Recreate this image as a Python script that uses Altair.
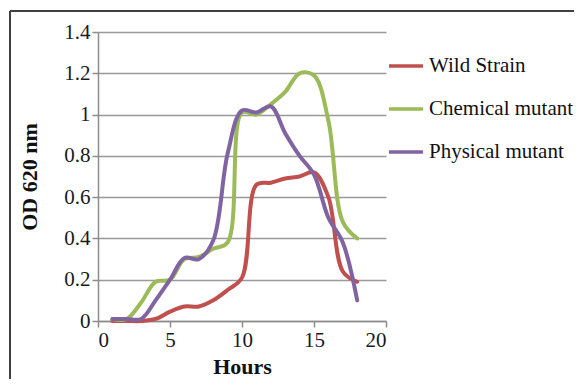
import altair as alt
import pandas as pd

hours = list(range(1, 19))
wild = [0.0, 0.0, 0.0, 0.01, 0.045, 0.07, 0.07, 0.1, 0.15, 0.21, 0.66, 0.67, 0.69, 0.70, 0.72, 0.60, 0.24, 0.19]
chem = [0.01, 0.01, 0.09, 0.19, 0.2, 0.3, 0.31, 0.35, 0.38, 1.01, 1.0, 1.05, 1.11, 1.2, 1.19, 0.97, 0.48, 0.4]
phys = [0.01, 0.01, 0.01, 0.1, 0.2, 0.305, 0.3, 0.39, 0.81, 1.02, 1.01, 1.04, 0.91, 0.8, 0.71, 0.5, 0.38, 0.1]

series_names = ["Wild Strain", "Chemical mutant", "Physical mutant"]
series_colors = ["#C0504D", "#9BBB59", "#8064A2"]

rows = []
for name, vals in zip(series_names, [wild, chem, phys]):
    for h, v in zip(hours, vals):
        rows.append({"Hours": h, "OD": v, "Series": name})
df = pd.DataFrame(rows)

FONT = "Liberation Serif"

lines = alt.Chart(df).mark_line(
    interpolate="catmull-rom", strokeWidth=4, strokeCap="round", strokeJoin="round"
).encode(
    x=alt.X("Hours:Q", scale=alt.Scale(domain=[0, 20], nice=False),
            axis=alt.Axis(title="Hours", values=[0, 5, 10, 15, 20], grid=False,
                          titleY=45, titleBaseline="middle")),
    y=alt.Y("OD:Q", scale=alt.Scale(domain=[0, 1.4], nice=False),
            axis=alt.Axis(title="OD 620 nm", values=[0, 0.2, 0.4, 0.6, 0.8, 1, 1.2, 1.4],
                          format="~g", grid=True,
                          titleX=-69, titleBaseline="middle")),
    color=alt.Color("Series:N",
                    scale=alt.Scale(domain=series_names, range=series_colors),
                    legend=alt.Legend(title=None, orient="none", legendX=289, legendY=15,
                                      symbolType="stroke", symbolSize=1156,
                                      symbolStrokeWidth=3.5, labelFont=FONT,
                                      labelFontSize=21, labelColor="#111111",
                                      labelOffset=4, rowPadding=14, padding=0,
                                      labelLimit=300)),
)

frame_left = alt.Chart(df).mark_rule(color="#404040", strokeWidth=2).encode(
    x=alt.value(-88), y=alt.value(-21), y2=alt.value(400))
frame_top = alt.Chart(df).mark_rule(color="#404040", strokeWidth=2).encode(
    y=alt.value(-21), x=alt.value(-88), x2=alt.value(600))

chart = alt.layer(frame_left, frame_top, lines).properties(
    width=288, height=289,
    autosize=alt.AutoSizeParams(type="none"),
    padding={"left": 90, "top": 24, "right": 188, "bottom": 58},
    background="white",
).configure_view(stroke=None).configure_axis(
    labelFont=FONT, labelFontSize=21, labelColor="#1a1a1a", labelPadding=2,
    titleFont=FONT, titleFontSize=22, titleFontWeight="bold", titleColor="#111111",
    domainColor="#8c8c8c", domainWidth=1.5, tickColor="#8c8c8c", tickWidth=1.5,
    tickSize=6, gridColor="#999999", gridWidth=1.5,
).configure_text(font=FONT)

chart.save("out.html", embed_options={"renderer": "svg", "actions": False})
